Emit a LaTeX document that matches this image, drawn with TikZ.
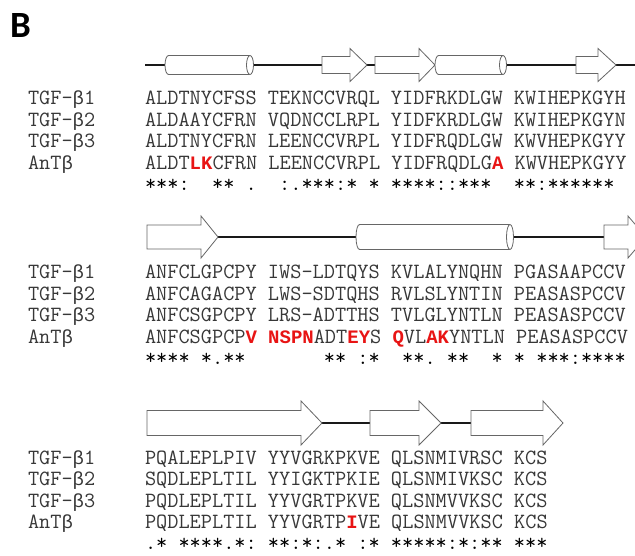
\documentclass[tikz,border=0pt]{standalone}
\usepackage{fontspec}
\newfontfamily\lmono{Liberation Mono}
\newfontfamily\carl{Carlito}
\definecolor{seqgray}{RGB}{55,55,55}
\definecolor{mutred}{RGB}{232,20,20}
\newcommand{\sq}{\ttfamily\fontsize{21.71pt}{24pt}\selectfont}
\newcommand{\mt}[1]{{\lmono\bfseries\fontsize{19pt}{20pt}\selectfont\color{mutred}#1}}
\newcommand{\bt}{{\lmono\fontsize{19pt}{20pt}\selectfont β}}
\newcommand{\strandarrow}[6]{%
  \filldraw[strand] (#1,#4-#5) -- (#2,#4-#5) -- (#2,#4-#6) -- (#3,#4) -- (#2,#4+#6) -- (#2,#4+#5) -- (#1,#4+#5) -- cycle;}
\newcommand{\helixbox}[4]{%
  \filldraw[strand] (#1+3.5,#3) ellipse [x radius=3.5pt, y radius=#4pt];
  \fill[white] (#1+3.5,#3-#4) rectangle (#2,#3+#4);
  \draw[strand] (#1+3.5,#3-#4) -- (#2,#3-#4) (#1+3.5,#3+#4) -- (#2,#3+#4);
  \filldraw[strand] (#2,#3) ellipse [x radius=3.5pt, y radius=#4pt];}
\begin{document}
\begin{tikzpicture}[x=1pt,y=-1pt,
  seq/.style={anchor=base west, inner sep=0pt, outer sep=0pt, text=seqgray, font=\sq},
  cons/.style={anchor=base west, inner sep=0pt, outer sep=0pt, text=black, font=\sq},
  strand/.style={fill=white, draw=black!60, line width=0.8pt},
  coil/.style={draw=black!90, line width=2pt}]
\useasboundingbox (0,0) rectangle (635,555);
\clip (0,0) rectangle (635,555);
\fill[white] (0,0) rectangle (635,555);

\node[anchor=base west, inner sep=0pt, font=\carl\bfseries\fontsize{37pt}{40pt}\selectfont] (panel) at (10,37) {B};

% ---------------- block 1 ----------------
\draw[coil] (145,65) -- (640,65);
\helixbox{165}{250}{65}{9.5}
\strandarrow{322}{350}{367}{65}{8.5}{16.5}
\strandarrow{375}{419}{435}{65}{8.5}{16.5}
\helixbox{435}{503}{65}{9.5}
\strandarrow{576}{598}{616}{65}{8.5}{16.5}

\node[seq] (l11) at (28,104.6) {TGF-\bt1};
\node[seq] (l12) at (28,126.1) {TGF-\bt2};
\node[seq] (l13) at (28,147.6) {TGF-\bt3};
\node[seq] (l14) at (28,169.1) {AnT\bt};
\node[seq] (s11) at (145,104.6) {ALDTNYCFSS TEKNCCVRQL YIDFRKDLGW KWIHEPKGYH};
\node[seq] (s12) at (145,126.1) {ALDAAYCFRN VQDNCCLRPL YIDFKRDLGW KWIHEPKGYN};
\node[seq] (s13) at (145,147.6) {ALDTNYCFRN LEENCCVRPL YIDFRQDLGW KWVHEPKGYY};
\node[seq] (s14) at (145,169.1) {ALDT\mt{LK}CFRN LEENCCVRPL YIDFRQDLG\mt{A} KWVHEPKGYY};
\node[cons] (c1) at (145,190.6) {***:~~**~.~~:.***:*~*~****::***~~**:******};

% ---------------- block 2 ----------------
\draw[coil] (218,237) -- (640,237);
\strandarrow{147}{201}{218}{237}{12}{21}
\helixbox{356}{510}{237}{12.5}
\strandarrow{604}{628}{646}{237}{12}{21}

\node[seq] (l21) at (28,278.6) {TGF-\bt1};
\node[seq] (l22) at (28,300.1) {TGF-\bt2};
\node[seq] (l23) at (28,321.6) {TGF-\bt3};
\node[seq] (l24) at (28,343.1) {AnT\bt};
\node[seq] (s21) at (145,278.6) {ANFCLGPCPY IWS-LDTQYS KVLALYNQHN PGASAAPCCV};
\node[seq] (s22) at (145,300.1) {ANFCAGACPY LWS-SDTQHS RVLSLYNTIN PEASASPCCV};
\node[seq] (s23) at (145,321.6) {ANFCSGPCPY LRS-ADTTHS TVLGLYNTLN PEASASPCCV};
\node[seq] (s24) at (145,343.1) {ANFCSGPCP\mt{V} \mt{NSPN}ADT\mt{EY}S \mt{Q}VL\mt{AK}YNTLN PEASASPCCV};
\node[cons] (c2) at (145,364.6) {****~*.**~~~~~~~**~:*~~**.~**~~*~*~***:****};

% ---------------- block 3 ----------------
\draw[coil] (322,423) -- (370,423);
\draw[coil] (441,423) -- (471,423);
\strandarrow{147}{301}{322}{423}{12.5}{22}
\strandarrow{370}{419}{441}{423}{12.5}{22}
\strandarrow{471}{543}{563}{423}{12.5}{22}

\node[seq] (l31) at (28,464) {TGF-\bt1};
\node[seq] (l32) at (28,485.5) {TGF-\bt2};
\node[seq] (l33) at (28,507) {TGF-\bt3};
\node[seq] (l34) at (28,528.5) {AnT\bt};
\node[seq] (s31) at (145,464) {PQALEPLPIV YYVGRKPKVE QLSNMIVRSC KCS};
\node[seq] (s32) at (145,485.5) {SQDLEPLTIL YYIGKTPKIE QLSNMIVKSC KCS};
\node[seq] (s33) at (145,507) {PQDLEPLTIL YYVGRTPKVE QLSNMVVKSC KCS};
\node[seq] (s34) at (145,528.5) {PQDLEPLTIL YYVGRTP\mt{I}VE QLSNMVVKSC KCS};
\node[cons] (c3) at (145,549.5) {.*~****.*:~**:*:.*~:*~*****:*:**~***};
\end{tikzpicture}
\end{document}
